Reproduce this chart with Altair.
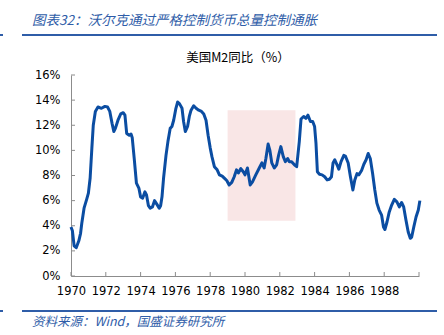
import altair as alt
import pandas as pd

years = [1970.00, 1970.08, 1970.18, 1970.30, 1970.45, 1970.55, 1970.62, 1970.75, 1970.90, 1971.00,
         1971.10, 1971.20, 1971.28, 1971.40, 1971.55, 1971.75, 1971.95, 1972.10, 1972.23, 1972.36,
         1972.46, 1972.55, 1972.70, 1972.86, 1973.00, 1973.10, 1973.20, 1973.35, 1973.45, 1973.52,
         1973.63, 1973.76, 1973.90, 1974.00, 1974.12, 1974.25, 1974.34, 1974.45, 1974.55, 1974.68,
         1974.80, 1974.94, 1975.07, 1975.15, 1975.23, 1975.32, 1975.46, 1975.57, 1975.70, 1975.80,
         1975.90, 1976.03, 1976.13, 1976.24, 1976.38, 1976.47, 1976.57, 1976.70, 1976.80, 1976.90,
         1977.05, 1977.19, 1977.34, 1977.50, 1977.63, 1977.76, 1977.88, 1978.00, 1978.10, 1978.24,
         1978.40, 1978.53, 1978.69, 1978.84, 1978.95, 1979.09, 1979.24, 1979.38, 1979.51, 1979.62,
         1979.76, 1979.90, 1980.00, 1980.14, 1980.30, 1980.43, 1980.62, 1980.82, 1980.97, 1981.10,
         1981.20, 1981.33, 1981.43, 1981.54, 1981.68, 1981.82, 1981.93, 1982.06, 1982.20, 1982.32,
         1982.45, 1982.55, 1982.68, 1982.84, 1982.97, 1983.12, 1983.22, 1983.37, 1983.50, 1983.62,
         1983.76, 1983.89, 1984.00, 1984.08, 1984.16, 1984.28, 1984.43, 1984.58, 1984.72, 1984.85,
         1984.97, 1985.06, 1985.16, 1985.29, 1985.39, 1985.52, 1985.68, 1985.77, 1985.93, 1986.06,
         1986.20, 1986.31, 1986.44, 1986.54, 1986.70, 1986.83, 1986.96, 1987.08, 1987.20, 1987.33,
         1987.46, 1987.58, 1987.71, 1987.85, 1987.96, 1988.04, 1988.16, 1988.29, 1988.43, 1988.58,
         1988.73, 1988.87, 1989.00, 1989.12, 1989.25, 1989.38, 1989.50, 1989.58, 1989.70, 1989.83,
         1989.96, 1990.05]

m2_yoy = [3.9, 3.6, 2.4, 2.25, 2.8, 3.4, 4.2, 5.4, 6.1, 6.6,
          7.8, 10.2, 12.0, 13.1, 13.45, 13.35, 13.5, 13.45, 13.1, 12.15,
          11.5, 11.75, 12.4, 12.9, 13.0, 12.8, 11.35, 11.2, 11.3, 11.0,
          9.4, 7.4, 7.0, 6.3, 6.2, 6.7, 6.45, 5.6, 5.4, 5.5,
          6.0, 5.7, 5.4, 5.6, 6.3, 7.8, 9.6, 10.7, 11.75, 11.9,
          12.4, 13.35, 13.85, 13.7, 13.35, 12.3, 11.5, 11.9, 12.7, 13.2,
          13.55, 13.35, 13.2, 13.1, 12.9, 12.4, 11.2, 10.2, 9.5, 8.7,
          8.45, 8.05, 7.95, 7.75, 7.6, 7.25, 7.45, 7.9, 8.45, 8.2,
          8.55, 8.3, 8.05, 8.6, 7.25, 7.5, 8.05, 8.6, 9.0, 8.6,
          9.35, 10.5, 10.0, 9.0, 8.6, 8.85, 9.6, 10.3, 9.5, 9.1,
          9.35, 9.1, 9.1, 8.85, 8.7, 10.7, 12.5, 12.7, 12.55, 12.8,
          12.3, 12.3, 11.9, 10.55, 8.3, 8.1, 8.05, 7.9, 7.65, 7.7,
          7.9, 9.0, 9.25, 8.85, 8.5, 9.1, 9.6, 9.55, 9.0, 7.9,
          6.85, 7.65, 8.15, 8.05, 8.4, 8.9, 9.25, 9.75, 9.35, 8.2,
          6.85, 5.8, 5.25, 4.85, 3.9, 3.7, 4.3, 5.1, 5.65, 6.1,
          5.9, 5.5, 5.85, 5.5, 4.45, 3.5, 3.0, 3.1, 3.9, 4.7,
          5.25, 6.0]

x_ticks = [1970, 1972, 1974, 1976, 1978, 1980, 1982, 1984, 1986, 1988, 1990]
y_ticks = [0, 2, 4, 6, 8, 10, 12, 14, 16]

shade_start = [1979.0]
shade_end = [1982.9]
shade_top = [13.2]
shade_bottom = [4.4]

header = "图表32：沃尔克通过严格控制货币总量控制通胀"
chart_title = "美国M2同比（%）"
source = "资料来源：Wind，国盛证券研究所"

W, H = 348, 201
LINE_BLUE = "#0B4DA2"
HEAD_BLUE = "#2F5DA8"
AXIS_GRAY = "#8C8C8C"
CJK = "Noto Sans CJK SC"
NUM_FONT = "DejaVu Sans"

df = pd.DataFrame({"year": years, "m2": m2_yoy})

xscale = alt.Scale(domain=[1970, 1990], nice=False, zero=False)
yscale = alt.Scale(domain=[0, 16], nice=False, zero=False)

x_axis = alt.Axis(values=x_ticks, labelExpr="datum.value < 1990 ? '' + datum.value : ''",
                  title=None, grid=False, ticks=False, domainColor=AXIS_GRAY, labelFont=NUM_FONT,
                  labelFontSize=11.5, labelColor="#000000", labelPadding=9,
                  labelFlush=False, labelOverlap=False, labelBound=False)
y_axis = alt.Axis(values=y_ticks, labelExpr="datum.value + '%'", title=None, grid=False,
                  ticks=False, domainColor=AXIS_GRAY, labelFont=NUM_FONT, labelFontSize=11.5,
                  labelColor="#000000", labelPadding=11, labelOverlap=False,
                  labelFlush=False, labelBound=False)

shade = alt.Chart(pd.DataFrame({"x0": shade_start, "x1": shade_end,
                                "y0": shade_top, "y1": shade_bottom})).mark_rect(
    color="#F9E6E6").encode(
    x=alt.X("x0:Q", scale=xscale, axis=x_axis), x2="x1:Q",
    y=alt.Y("y0:Q", scale=yscale, axis=y_axis), y2="y1:Q")

line = alt.Chart(df).mark_line(color=LINE_BLUE, strokeWidth=3, strokeJoin="round").encode(
    x=alt.X("year:Q", scale=xscale, axis=x_axis),
    y=alt.Y("m2:Q", scale=yscale, axis=y_axis))

xt = alt.Chart(pd.DataFrame({"t": x_ticks})).mark_rule(color=AXIS_GRAY, strokeWidth=1).encode(
    x=alt.X("t:Q", scale=xscale, axis=x_axis), y=alt.value(H - 4), y2=alt.value(H))
yt = alt.Chart(pd.DataFrame({"t": y_ticks})).mark_rule(color=AXIS_GRAY, strokeWidth=1).encode(
    y=alt.Y("t:Q", scale=yscale, axis=y_axis), x=alt.value(0), x2=alt.value(4))

one = pd.DataFrame({"a": [0]})
head_txt = alt.Chart(pd.DataFrame({"t": [header]})).mark_text(
    align="left", baseline="middle", font=CJK, fontStyle="italic", fontSize=13.5,
    color=HEAD_BLUE).encode(x=alt.value(-39), y=alt.value(-54), text="t:N")
head_rule = alt.Chart(one).mark_rule(color=HEAD_BLUE, strokeWidth=2).encode(
    x=alt.value(-49), x2=alt.value(366), y=alt.value(-40))
head_dash = alt.Chart(one).mark_rule(color=HEAD_BLUE, strokeWidth=2).encode(
    x=alt.value(-71), x2=alt.value(-68), y=alt.value(-40))
title_txt = alt.Chart(pd.DataFrame({"t": [chart_title]})).mark_text(
    align="center", baseline="middle", font=CJK, fontSize=12.5, color="#000000").encode(
    x=alt.value(167), y=alt.value(-17), text="t:N")
foot_rule = alt.Chart(one).mark_rule(color=HEAD_BLUE, strokeWidth=2).encode(
    x=alt.value(-49), x2=alt.value(366), y=alt.value(236))
foot_dash = alt.Chart(one).mark_rule(color=HEAD_BLUE, strokeWidth=2).encode(
    x=alt.value(-71), x2=alt.value(-68), y=alt.value(236))
foot_txt = alt.Chart(pd.DataFrame({"t": [source]})).mark_text(
    align="left", baseline="middle", font=CJK, fontStyle="italic", fontSize=12.5,
    color=HEAD_BLUE).encode(x=alt.value(-39), y=alt.value(247), text="t:N")

chart = alt.layer(shade, line, xt, yt, head_txt, head_rule, head_dash, title_txt,
                  foot_rule, foot_dash, foot_txt).properties(
    width=W, height=H,
    autosize=alt.AutoSizeParams(type="none"),
    padding={"left": 71, "top": 75, "right": 25, "bottom": 59},
    background="#FFFFFF",
).configure_view(stroke=None)

chart.save("out.html", embed_options={"renderer": "svg", "actions": False})
